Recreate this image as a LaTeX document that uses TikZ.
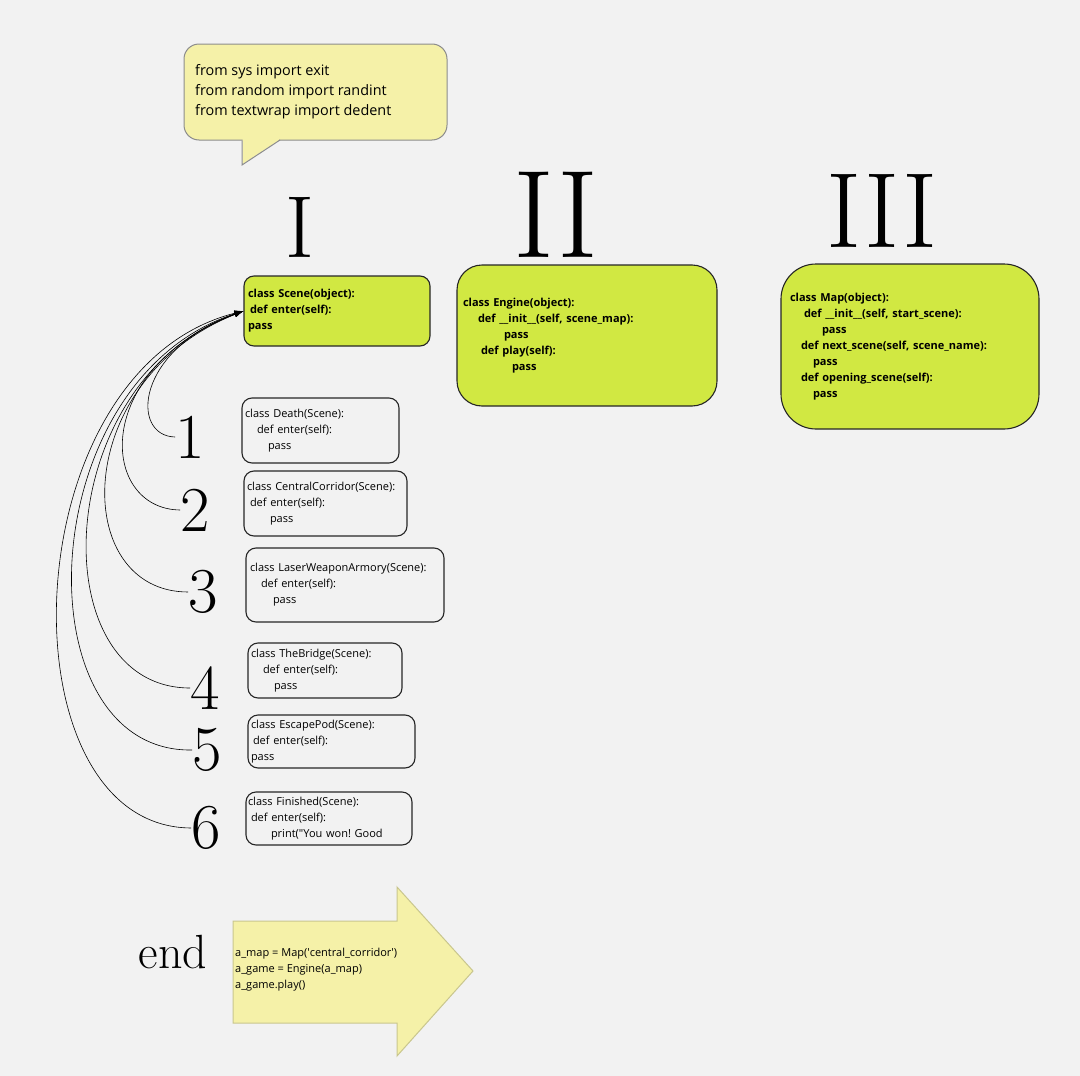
\documentclass[tikz,border=0pt]{standalone}
\usepackage{fontspec}
\newfontfamily\codefont{Open Sans}
\usetikzlibrary{arrows.meta}
\frenchspacing
\definecolor{scenegreen}{HTML}{D1E842}
\definecolor{noteyellow}{HTML}{F5F1A8}
\definecolor{pagegray}{HTML}{F2F2F2}
\definecolor{boxline}{HTML}{262626}
\definecolor{noteline}{HTML}{8C8C8C}
\definecolor{arrowline}{HTML}{C9C68E}
\tikzset{
  classbox/.style={draw=boxline, line width=1.1pt, rounded corners=10pt, align=left, inner ysep=0pt,
    font=\codefont\fontsize{11}{16}\selectfont},
  greenbox/.style={classbox, fill=scenegreen, font=\codefont\bfseries\fontsize{11}{16}\selectfont},
  digit/.style={inner sep=0pt, font=\fontsize{64}{64}\selectfont},
  numeral/.style={inner sep=0pt},
  tolink/.style={-{Latex[length=9pt,width=6pt]}, line width=0.6pt},
}
\begin{document}
\begin{tikzpicture}[x=1pt,y=-1pt]
  \useasboundingbox (0,0) rectangle (1080,1076);
  \fill[pagegray] (0,0) rectangle (1080,1076);

  \draw[noteline, fill=noteyellow, line width=1pt, rounded corners=15pt] (184,44) rectangle (447,140);
  \fill[noteyellow] (242.5,138) -- (242.5,164) -- (279,140.2) -- (279,138) -- cycle;
  \draw[noteline, line width=1pt] (242,140.5) -- (242,165) -- (280,140);
  \node[anchor=west, align=left, inner sep=0pt, font=\codefont\fontsize{14.4}{20}\selectfont] (imports) at (195,92)
    {from sys import exit\\from random import randint\\from textwrap import dedent};

  \node[numeral, font=\fontsize{88}{88}\selectfont] (partone) at (300,227) {I};
  \node[numeral, font=\fontsize{125}{125}\selectfont] (parttwo) at (556,215) {II};
  \node[numeral, font=\fontsize{107}{107}\selectfont] (partthree) at (882,211) {III};

  \node[greenbox, text width=178pt, inner xsep=4pt, minimum height=70pt] (scene) at (337,311)
    {class Scene(object):\\\hspace*{2pt}def enter(self):\\pass};
  \node[greenbox, rounded corners=25pt, text width=248pt, inner xsep=6pt, minimum height=141pt] (engine) at (587,335.5)
    {class Engine(object):\\\hspace*{15pt}def \_\_init\_\_(self, scene\_map):\\\hspace*{41pt}pass\\
     \hspace*{18pt}def play(self):\\\hspace*{49pt}pass};
  \node[greenbox, rounded corners=35pt, text width=240pt, inner xsep=9pt, minimum height=165pt] (map) at (910,346.5)
    {class Map(object):\\\hspace*{14pt}def \_\_init\_\_(self, start\_scene):\\\hspace*{32pt}pass\\
     \hspace*{11pt}def next\_scene(self, scene\_name):\\\hspace*{23pt}pass\\
     \hspace*{11pt}def opening\_scene(self):\\\hspace*{23pt}pass};

  \node[classbox, text width=151pt, inner xsep=3pt, minimum height=65pt] (death) at (320.5,430.5)
    {class Death(Scene):\\\hspace*{12pt}def enter(self):\\\hspace*{23pt}pass};
  \node[classbox, text width=157pt, inner xsep=3pt, minimum height=65pt] (corridor) at (325.5,503.5)
    {class CentralCorridor(Scene):\\\hspace*{3pt}def enter(self):\\\hspace*{23pt}pass};
  \node[classbox, text width=190pt, inner xsep=4pt, minimum height=74pt] (armory) at (345,585)
    {class LaserWeaponArmory(Scene):\\\hspace*{11pt}def enter(self):\\\hspace*{23pt}pass};
  \node[classbox, text width=148pt, inner xsep=3pt, minimum height=55pt] (bridge) at (325,670.5)
    {class TheBridge(Scene):\\\hspace*{12pt}def enter(self):\\\hspace*{23pt}pass};
  \node[classbox, text width=161pt, inner xsep=3pt, minimum height=53pt] (escapepod) at (331.5,741.5)
    {class EscapePod(Scene):\\\hspace*{2pt}def enter(self):\\pass};
  \node[classbox, text width=162pt, inner xsep=2pt, minimum height=53pt] (finished) at (329,818.5)
    {class Finished(Scene):\\\hspace*{3pt}def enter(self):\\\hspace*{23pt}print("You won! Good};

  \node[digit] (n1) at (190,437) {1};
  \node[digit] (n2) at (195,510) {2};
  \node[digit] (n3) at (203,592) {3};
  \node[digit] (n4) at (205,688) {4};
  \node[digit] (n5) at (207,750) {5};
  \node[digit] (n6) at (206,828) {6};

  \draw[tolink] (n1.west) .. controls (130,436) and (135,350) .. (scene.west);
  \draw[tolink] (n2.west) .. controls (100,509) and (90,370) .. (scene.west);
  \draw[tolink] (n3.west) .. controls (70,592) and (70,380) .. (scene.west);
  \draw[tolink] (n4.west) .. controls (40,688) and (50,380) .. (scene.west);
  \draw[tolink] (n5.west) .. controls (20,753) and (30,380) .. (scene.west);
  \draw[tolink] (n6.west) .. controls (0,827) and (10,370) .. (scene.west);

  \draw[arrowline, fill=noteyellow, line width=1pt] (233,921) -- (397,921) -- (397,887) -- (473,971)
    -- (397,1056) -- (397,1023) -- (233,1023) -- cycle;
  \node[anchor=west, align=left, inner sep=0pt, font=\codefont\fontsize{11}{16}\selectfont] (gamecode) at (235,970)
    {a\_map = Map(\textquotesingle central\_corridor\textquotesingle)\\a\_game = Engine(a\_map)\\a\_game.play()};
  \node[inner sep=0pt, font=\fontsize{48}{48}\selectfont] (finale) at (173,952) {end};
\end{tikzpicture}
\end{document}
